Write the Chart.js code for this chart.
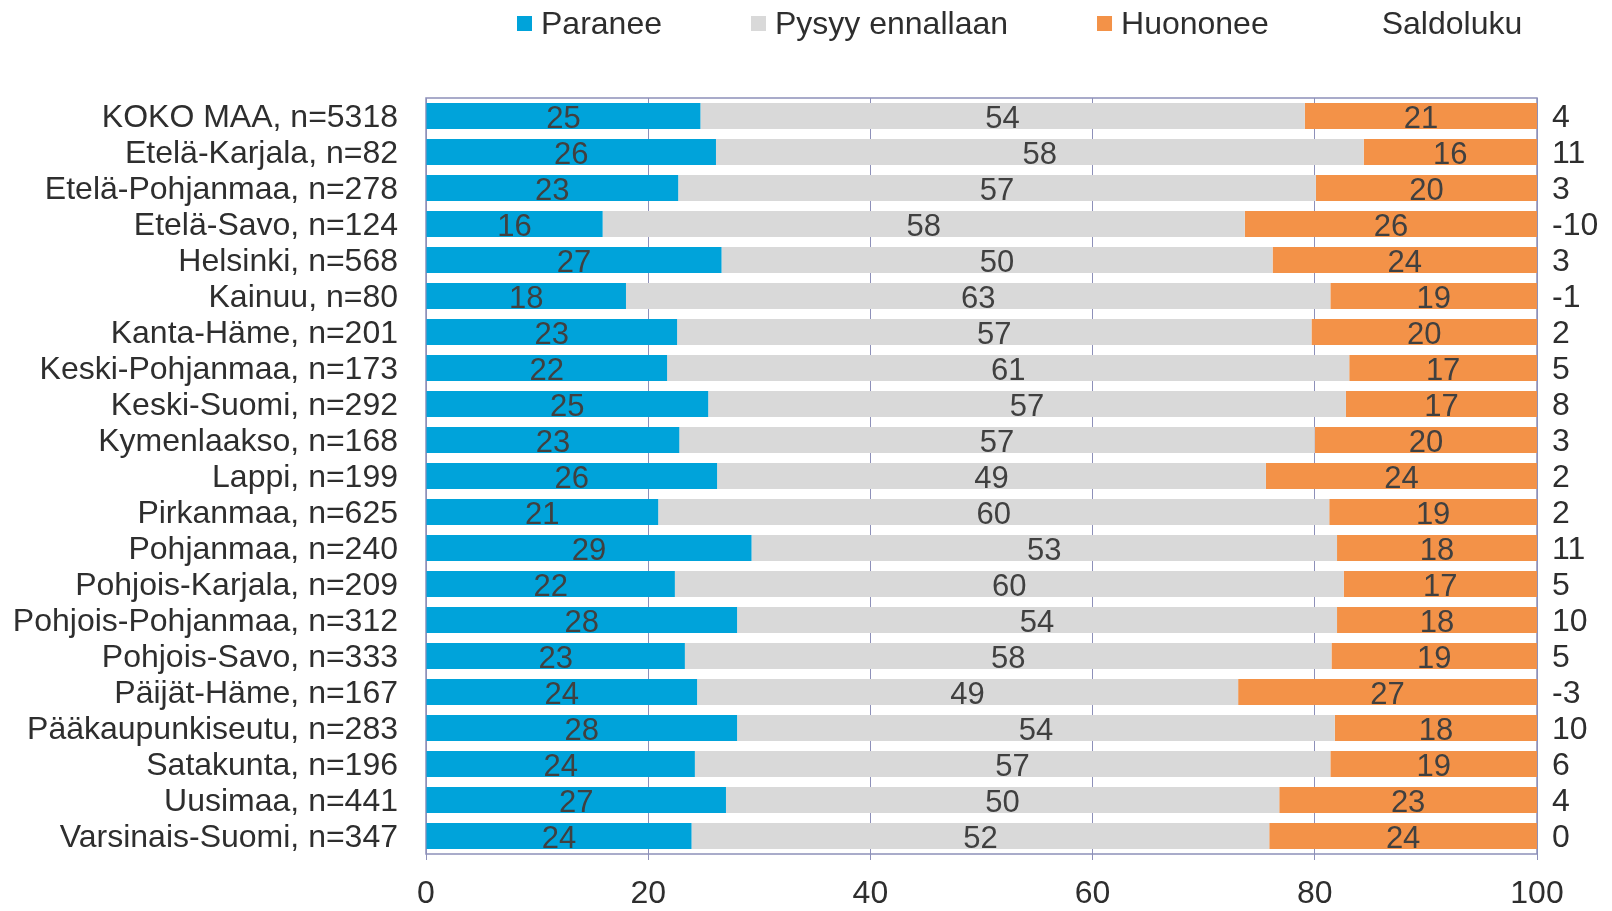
<!DOCTYPE html>
<html lang="fi">
<head>
  <meta charset="UTF-8">
  <title>Saldoluku maakunnittain</title>
  <script src="https://cdn.jsdelivr.net/npm/chart.js"></script>
  <style>
    body {
      margin: 0;
      background: #ffffff;
    }
    .chart-box {
      width: 1612px;
      height: 911px;
      position: relative;
    }
  </style>
</head>
<body>
  <div class="chart-box">
    <canvas id="saldoChart"></canvas>
  </div>

  <script>
    const alueet = [
      'KOKO MAA, n=5318', 'Etelä-Karjala, n=82', 'Etelä-Pohjanmaa, n=278', 'Etelä-Savo, n=124',
      'Helsinki, n=568', 'Kainuu, n=80', 'Kanta-Häme, n=201', 'Keski-Pohjanmaa, n=173',
      'Keski-Suomi, n=292', 'Kymenlaakso, n=168', 'Lappi, n=199', 'Pirkanmaa, n=625',
      'Pohjanmaa, n=240', 'Pohjois-Karjala, n=209', 'Pohjois-Pohjanmaa, n=312', 'Pohjois-Savo, n=333',
      'Päijät-Häme, n=167', 'Pääkaupunkiseutu, n=283', 'Satakunta, n=196', 'Uusimaa, n=441',
      'Varsinais-Suomi, n=347'
    ];
    const paranee  = [24.7, 26.1, 22.7, 15.9, 26.6, 18.0, 22.6, 21.7, 25.4, 22.8, 26.2, 20.9, 29.3, 22.4, 28.0, 23.3, 24.4, 28.0, 24.2, 27.0, 23.9];
    const pysyy    = [54.4, 58.3, 57.4, 57.8, 49.6, 63.4, 57.1, 61.4, 57.4, 57.2, 49.4, 60.4, 52.7, 60.2, 54.0, 58.2, 48.7, 53.8, 57.2, 49.8, 52.0];
    const huononee = [20.9, 15.6, 19.9, 26.3, 23.8, 18.6, 20.3, 16.9, 17.2, 20.0, 24.4, 18.7, 18.0, 17.4, 18.0, 18.5, 26.9, 18.2, 18.6, 23.2, 24.1];
    const saldo    = [4, 11, 3, -10, 3, -1, 2, 5, 8, 3, 2, 2, 11, 5, 10, 5, -3, 10, 6, 4, 0];

    const fontName = '"Liberation Sans", Arial, sans-serif';
    const textColor = '#2e2e2e';
    const lineColor = '#8d90b9';

    // numbers inside the bars
    const valueLabels = {
      id: 'valueLabels',
      afterDatasetsDraw(chart) {
        const ctx = chart.ctx;
        ctx.save();
        ctx.font = '31px ' + fontName;
        ctx.fillStyle = '#404040';
        ctx.textAlign = 'center';
        ctx.textBaseline = 'middle';
        chart.data.datasets.forEach((ds, i) => {
          chart.getDatasetMeta(i).data.forEach((bar, j) => {
            ctx.fillText(Math.round(ds.data[j]), (bar.x + bar.base) / 2, bar.y + 3);
          });
        });
        ctx.restore();
      }
    };

    // frame round the plot
    const plotFrame = {
      id: 'plotFrame',
      beforeDatasetsDraw(chart) {
        const a = chart.chartArea;
        const ctx = chart.ctx;
        ctx.save();
        ctx.strokeStyle = lineColor;
        ctx.lineWidth = 1.5;
        ctx.strokeRect(a.left, a.top, a.right - a.left, a.bottom - a.top);
        ctx.restore();
      }
    };

    // legend row on top, with the Saldoluku heading
    const legendRow = {
      id: 'legendRow',
      afterDraw(chart) {
        const ctx = chart.ctx;
        const items = chart.data.datasets.map(ds => ({ text: ds.label, color: ds.backgroundColor }));
        items.push({ text: 'Saldoluku', color: null });
        let x = 517;
        const y = 24;
        ctx.save();
        ctx.font = '32px ' + fontName;
        ctx.textBaseline = 'middle';
        items.forEach(it => {
          if (it.color) {
            ctx.fillStyle = it.color;
            ctx.fillRect(x, y - 8, 15, 15);
          }
          x += 24;
          ctx.fillStyle = textColor;
          ctx.fillText(it.text, x, y + 1);
          x += ctx.measureText(it.text).width + 89;
        });
        ctx.restore();
      }
    };

    new Chart(document.getElementById('saldoChart'), {
      type: 'bar',
      data: {
        labels: alueet,
        datasets: [
          { label: 'Paranee', data: paranee, backgroundColor: '#00a3da' },
          { label: 'Pysyy ennallaan', data: pysyy, backgroundColor: '#d9d9d9' },
          { label: 'Huononee', data: huononee, backgroundColor: '#f39248' }
        ]
      },
      options: {
        indexAxis: 'y',
        responsive: true,
        maintainAspectRatio: false,
        animation: false,
        datasets: {
          bar: { categoryPercentage: 1, barPercentage: 0.72 }
        },
        layout: { padding: { top: 98, left: 0, right: 0, bottom: 0 } },
        plugins: {
          legend: { display: false },
          tooltip: { enabled: false }
        },
        scales: {
          x: {
            stacked: true,
            min: 0,
            max: 100,
            ticks: {
              stepSize: 20,
              color: textColor,
              font: { family: fontName, size: 32 },
              padding: 15
            },
            grid: { color: lineColor, lineWidth: 1, drawTicks: true, tickLength: 6 },
            border: { display: false },
            afterFit(scale) { scale.height = 57; }
          },
          y: {
            stacked: true,
            ticks: {
              autoSkip: false,
              color: textColor,
              font: { family: fontName, size: 32 },
              padding: 28,
              labelOffset: 2
            },
            grid: { display: false, drawTicks: false },
            border: { display: false },
            afterFit(scale) { scale.width = 426; }
          },
          y2: {
            type: 'category',
            position: 'right',
            labels: saldo.map(String),
            offset: true,
            ticks: {
              autoSkip: false,
              color: textColor,
              font: { family: fontName, size: 32 },
              padding: 15,
              labelOffset: 2
            },
            grid: { display: false, drawTicks: false },
            border: { display: false },
            afterFit(scale) { scale.width = 75; }
          }
        }
      },
      plugins: [plotFrame, valueLabels, legendRow]
    });
  </script>
</body>
</html>
